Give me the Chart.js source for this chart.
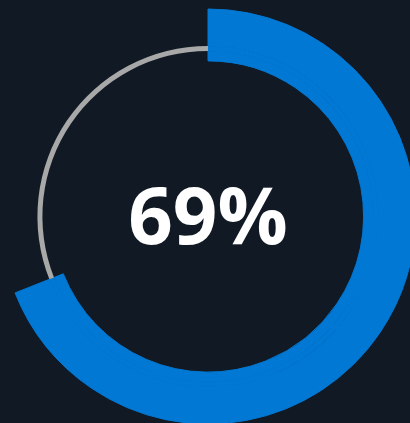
<!DOCTYPE html>
<html lang="en">
<head>
  <meta charset="UTF-8" />
  <title>Progress gauge</title>
  <script src="https://cdn.jsdelivr.net/npm/chart.js@4.4.1/dist/chart.umd.min.js"></script>
  <style>
    html, body { margin: 0; padding: 0; background: #111a24; overflow: hidden; }
    body { width: 410px; height: 423px; position: relative; }
    #wrap { position: absolute; left: 0; top: 8px; width: 416px; height: 417px; }
  </style>
</head>
<body>
  <div id="wrap"><canvas id="gauge"></canvas></div>

  <script>
    // values
    const labels = ["Complete", "Remaining"];
    const percent = [69, 31];
    const centerLabel = "69%";

    const blue = "#0078d4";
    const track = "#a8a8a8";
    const none = "rgba(0,0,0,0)";

    // the thin grey track sits inside the thick blue band, so the band is split in 3 rings
    // outer part / track line / inner part - blue runs through all three
    const ring = (fill, weight) => ({
      data: percent,
      backgroundColor: [blue, fill],
      borderColor: [blue, none],
      borderWidth: [1, 0],
      weight: weight
    });

    // text in the middle
    const centerText = {
      id: "centerText",
      afterDraw(chart) {
        const { ctx, chartArea } = chart;
        const cx = (chartArea.left + chartArea.right) / 2;
        const cy = (chartArea.top + chartArea.bottom) / 2;
        ctx.save();
        ctx.fillStyle = "#ffffff";
        ctx.font = "bold 78px 'Open Sans'";
        ctx.textAlign = "center";
        ctx.textBaseline = "alphabetic";
        ctx.fillText(centerLabel, cx, cy + 27);
        ctx.restore();
      }
    };

    new Chart(document.getElementById("gauge"), {
      type: "doughnut",
      data: {
        labels,
        datasets: [ring(none, 37), ring(track, 5), ring(none, 10)]
      },
      options: {
        responsive: true,
        maintainAspectRatio: false,
        animation: false,
        cutout: "75%",
        rotation: 0,
        circumference: 360,
        layout: { padding: 0 },
        plugins: {
          legend: { display: false },
          tooltip: { enabled: false }
        }
      },
      plugins: [centerText]
    });
  </script>
</body>
</html>
